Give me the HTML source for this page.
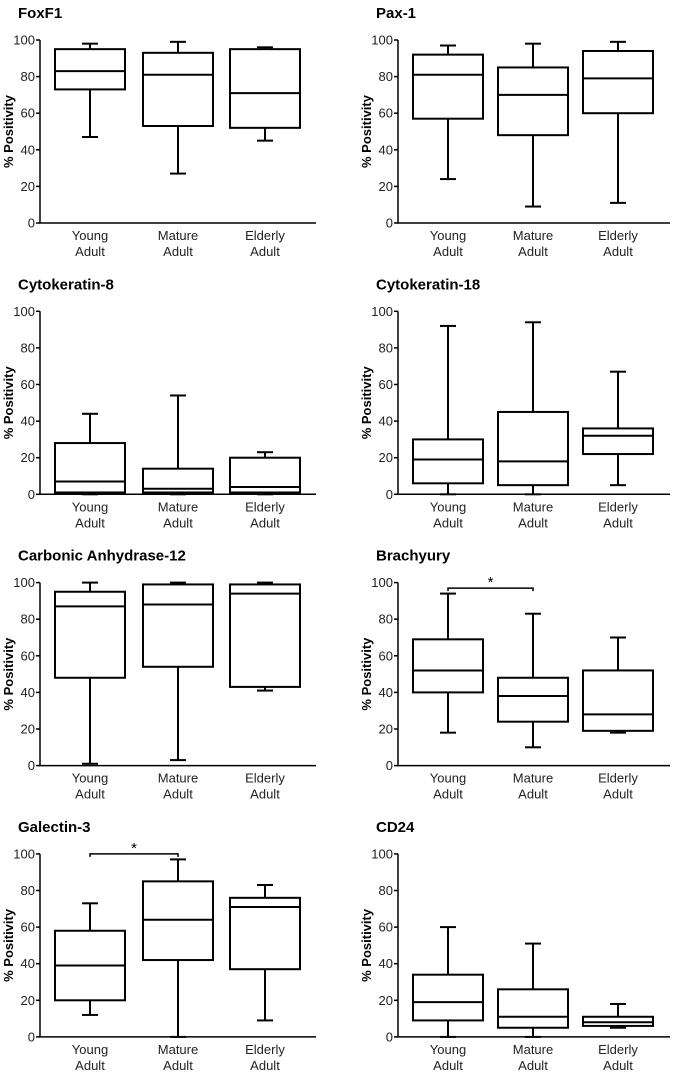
<!DOCTYPE html>
<html><head><meta charset="utf-8"><style>
body{margin:0;background:#fff;}
svg{display:block;font-family:"Liberation Sans",Arial,sans-serif;}
</style></head><body>
<svg id="c" width="675" height="1073" viewBox="0 0 675 1073"></svg>
<script>
const titles=["FoxF1","Pax-1","Cytokeratin-8","Cytokeratin-18","Carbonic Anhydrase-12","Brachyury","Galectin-3","CD24"];
const groups=["Young","Mature","Elderly"];
const yTicks=[0,20,40,60,80,100];
// [min,q1,median,q3,max] per group
const foxf1=[[47,73,83,95,98],[27,53,81,93,99],[45,52,71,95,96]];
const pax1=[[24,57,81,92,97],[9,48,70,85,98],[11,60,79,94,99]];
const ck8=[[0,1,7,28,44],[0,1,3,14,54],[0,1,4,20,23]];
const ck18=[[0,6,19,30,92],[0,5,18,45,94],[5,22,32,36,67]];
const cah12=[[1,48,87,95,100],[3,54,88,99,100],[41,43,94,99,100]];
const brachyury=[[18,40,52,69,94],[10,24,38,48,83],[18,19,28,52,70]];
const galectin3=[[12,20,39,58,73],[0,42,64,85,97],[9,37,71,76,83]];
const cd24=[[0,9,19,34,60],[0,5,11,26,51],[5,6,8,11,18]];
const panels=[foxf1,pax1,ck8,ck18,cah12,brachyury,galectin3,cd24];
// significance brackets: [panelIndex, groupA, groupB, level]
const sigs=[[5,0,1,97],[6,0,1,100]];

const NS="http://www.w3.org/2000/svg";
const svg=document.getElementById('c');
function mk(tag,attrs,parent,text){const e=document.createElementNS(NS,tag);for(const k in attrs)e.setAttribute(k,attrs[k]);if(text!==undefined)e.textContent=text;(parent||svg).appendChild(e);return e;}

panels.forEach((data,pi)=>{
  const col=pi%2,row=Math.floor(pi/2);
  const x0=col?398:40, xEnd=col?670:316;
  const yTop=40+row*271.3, yBot=223+row*271.3;
  const ys=v=>yBot-(v/100)*(yBot-yTop);
  const centers=col?[448,533,618]:[90,178,265];
  const g=mk('g',{});
  
  
  const t=mk('text',{x:x0-22,y:yTop-22,'font-size':15,'font-weight':'bold'},g,titles[pi]);
  
  
  const yl=mk('text',{transform:`translate(${x0-27},${(yTop+yBot)/2}) rotate(-90)`,'text-anchor':'middle','font-size':13,'font-weight':'bold'},g,'% Positivity');
  
  
  const ax=mk('path',{d:`M${x0},${yTop} V${yBot} H${xEnd}`,stroke:'#000','stroke-width':1.5,fill:'none'},g);
  
  
  yTicks.forEach(v=>{
    mk('line',{x1:x0-4,x2:x0,y1:ys(v),y2:ys(v),stroke:'#000','stroke-width':1.5},g);
    const tl=mk('text',{x:x0-5,y:ys(v)+4.5,'text-anchor':'end','font-size':13,fill:'#222'},g,String(v));
    
    
  });
  data.forEach((d,gi)=>{
    const cx=centers[gi],w=70;
    const bx=mk('g',{stroke:'#000','stroke-width':2,fill:'none'},g);
    
    
    mk('line',{x1:cx,x2:cx,y1:ys(d[0]),y2:ys(d[1])},bx);
    mk('line',{x1:cx,x2:cx,y1:ys(d[3]),y2:ys(d[4])},bx);
    mk('line',{x1:cx-8,x2:cx+8,y1:ys(d[0]),y2:ys(d[0])},bx);
    mk('line',{x1:cx-8,x2:cx+8,y1:ys(d[4]),y2:ys(d[4])},bx);
    mk('rect',{x:cx-w/2,y:ys(d[3]),width:w,height:ys(d[1])-ys(d[3]),fill:'#fff'},bx);
    mk('line',{x1:cx-w/2,x2:cx+w/2,y1:ys(d[2]),y2:ys(d[2])},bx);
    const l1=mk('text',{x:cx,y:yBot+17,'text-anchor':'middle','font-size':13,fill:'#222'},g,groups[gi]);
    
    
    const l2=mk('text',{x:cx,y:yBot+33,'text-anchor':'middle','font-size':13,fill:'#222'},g,'Adult');
    
    
  });
  sigs.filter(s=>s[0]===pi).forEach(s=>{
    const y=ys(s[3]),a=centers[s[1]],b=centers[s[2]];
    const br=mk('path',{d:`M${a},${y+3} V${y} H${b} V${y+3}`,stroke:'#000','stroke-width':1.5,fill:'none'},g);
    
    
    const st=mk('text',{x:(a+b)/2,y:y-1,'text-anchor':'middle','font-size':15},g,'*');
    
    
  });
});
</script>
</body></html>
